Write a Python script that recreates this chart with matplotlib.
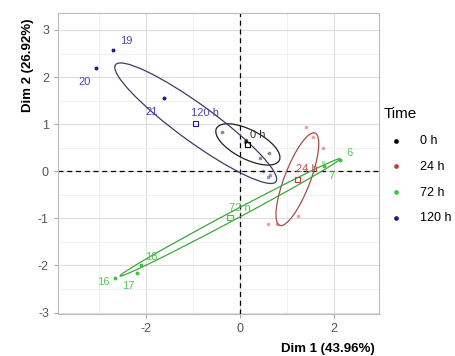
import numpy as np
import matplotlib
matplotlib.use("Agg")
import matplotlib.pyplot as plt
from matplotlib.patches import Ellipse
from matplotlib.ticker import MultipleLocator

plt.rcParams['font.family'] = ['Liberation Sans', 'DejaVu Sans']
plt.rcParams['axes.unicode_minus'] = False

# groups and their sample coordinates
groups = ['0 h', '24 h', '72 h', '120 h']

x_0h = [-0.38, 0.62, 0.43, 0.10, 0.12, 0.13]
y_0h = [0.83, 0.38, 0.28, 0.62, 0.66, 0.65]
id_0h = ['', '', '', '', '', '']

x_24h = [1.40, 1.55, 1.77, 1.23, 0.60, 0.79]
y_24h = [0.94, 0.72, 0.49, -0.94, -1.11, -1.11]
id_24h = ['', '', '', '', '', '']

x_72h = [-2.66, -2.19, -2.11, 2.13, 1.80, 1.77]
y_72h = [-2.26, -2.15, -2.00, 0.23, 0.11, 0.19]
id_72h = ['16', '17', '18', '6', '7', '']

x_120h = [-2.70, -3.06, -1.62, 0.50, 0.60, 0.64]
y_120h = [2.57, 2.19, 1.55, 0.00, -0.12, -0.07]
id_120h = ['19', '20', '21', '', '', '']

# ellipse size per group (full axes, angle in degrees)
ellipse_major = [1.50, 2.10, 5.30, 4.22]
ellipse_minor = [0.62, 0.55, 0.18, 0.78]
ellipse_angle = [-27, 69, 28, -36]

# styles
point_col = ['black', '#d03838', '#38c838', '#1c1c8a']
label_col = ['#333333', '#c05050', '#55c855', '#4848b0']
ellipse_col = ['#202020', '#a0504a', '#3aa83a', '#3c3c64']
# where the sample labels sit, in pixels from their point (dx, dy up)
label_shift = {'19': (13, 9), '20': (-11, -14), '21': (-12, -14),
               '16': (-12, -4), '17': (-9, -13), '18': (11, 8),
               '6': (10, 7), '7': (7, -10)}


def draw_group(ax, k, xs, ys, ids):
    """Draw points, sample labels, ellipse and mean of one group."""
    xs = np.array(xs)
    ys = np.array(ys)
    named = np.array([name != '' for name in ids])
    # labelled samples show up darker than the rest
    sc = ax.scatter(xs[named], ys[named], s=8, color=point_col[k], zorder=3,
                    linewidths=0, label=groups[k])
    ax.scatter(xs[~named], ys[~named], s=7, color=point_col[k], zorder=3,
               linewidths=0, alpha=0.45)
    for xi, yi, name in zip(xs, ys, ids):
        if name == '':
            continue
        dx, dy = label_shift[name]
        ax.annotate(name, (xi, yi), xytext=(dx * 0.72, dy * 0.72),
                    textcoords='offset points', ha='center', va='center',
                    fontsize=8, color=label_col[k])

    xm = xs.mean()
    ym = ys.mean()
    ell = Ellipse((xm, ym), ellipse_major[k], ellipse_minor[k],
                  angle=ellipse_angle[k], fill=False,
                  edgecolor=ellipse_col[k], linewidth=0.9, zorder=2)
    ax.add_patch(ell)
    ax.scatter([xm], [ym], s=14, marker='s', facecolors='none',
               edgecolors=point_col[k], linewidths=0.8, zorder=4)
    ax.annotate(groups[k], (xm, ym), xytext=(7, 7),
                textcoords='offset points', ha='center', va='center',
                fontsize=8, color=label_col[k])
    return sc


fig = plt.figure(figsize=(4.55, 3.56), dpi=100)
ax = fig.add_axes([58 / 455, 1 - 313.5 / 356, (379 - 58) / 455,
                   (313.5 - 13) / 356])

handles = []
handles.append(draw_group(ax, 0, x_0h, y_0h, id_0h))
handles.append(draw_group(ax, 1, x_24h, y_24h, id_24h))
handles.append(draw_group(ax, 2, x_72h, y_72h, id_72h))
handles.append(draw_group(ax, 3, x_120h, y_120h, id_120h))

ax.axhline(0, color='black', linestyle=(0, (4, 3)), linewidth=0.9,
           zorder=1)
ax.axvline(0, color='black', linestyle=(0, (4, 3)), linewidth=0.9,
           zorder=1)

ax.set_xlim(-3.87, 2.96)
ax.set_ylim(-3.02, 3.36)

# grid like ggplot
ax.xaxis.set_major_locator(MultipleLocator(2))
ax.xaxis.set_minor_locator(MultipleLocator(1))
ax.yaxis.set_major_locator(MultipleLocator(1))
ax.yaxis.set_minor_locator(MultipleLocator(0.5))
ax.grid(which='major', color='#dedede', linewidth=0.8)
ax.grid(which='minor', color='#ececec', linewidth=0.5)
ax.set_axisbelow(True)
ax.tick_params(which='major', length=3, color='#aaaaaa',
               labelcolor='#555555', labelsize=9)
ax.tick_params(which='minor', length=0)
for sp in ax.spines.values():
    sp.set_color('#bbbbbb')
    sp.set_linewidth(0.8)

fig.text(328 / 455, 1 - 349 / 356, 'Dim 1 (43.96%)', ha='center',
         va='center', fontsize=9.5, fontweight='bold')
fig.text(28 / 455, 1 - 65 / 356, 'Dim 2 (26.92%)', ha='center',
         va='center', rotation=90, fontsize=9.5, fontweight='bold')

leg = fig.legend(handles=handles, labels=groups, title='Time',
                 loc='upper left', bbox_to_anchor=(372 / 455, 1 - 96 / 356),
                 frameon=False, fontsize=9, title_fontsize=11,
                 markerscale=1.2, handletextpad=0.9, labelspacing=1.1,
                 alignment='left')

plt.savefig('out.png', dpi=100)
